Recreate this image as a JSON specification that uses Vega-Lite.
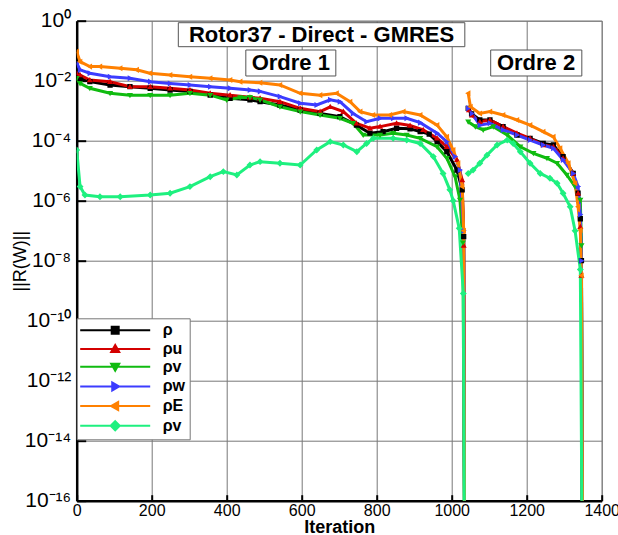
{
"$schema":"https://vega.github.io/schema/vega-lite/v6.json",
"width":525,"height":480,
"autosize":"none",
"padding":{"left":76.7,"top":20.7,"right":16.3,"bottom":34.3},
"config":{"font":"Liberation Sans","view":{"stroke":"#888","strokeWidth":1}},
"datasets":{
"res":[
{"s":"ρ","p":1,"i":0,"r":2.0e-2},{"s":"ρ","p":1,"i":9,"r":1.2e-2},{"s":"ρ","p":1,"i":35,"r":9.3e-3},{"s":"ρ","p":1,"i":89,"r":7.2e-3},{"s":"ρ","p":1,"i":142,"r":6.3e-3},{"s":"ρ","p":1,"i":196,"r":5.6e-3},{"s":"ρ","p":1,"i":249,"r":4.9e-3},{"s":"ρ","p":1,"i":302,"r":4.4e-3},{"s":"ρ","p":1,"i":356,"r":3.3e-3},{"s":"ρ","p":1,"i":409,"r":2.6e-3},{"s":"ρ","p":1,"i":462,"r":2.3e-3},{"s":"ρ","p":1,"i":489,"r":2.0e-3},{"s":"ρ","p":1,"i":542,"r":1.55e-3},{"s":"ρ","p":1,"i":596,"r":1.05e-3},{"s":"ρ","p":1,"i":649,"r":8.1e-4},{"s":"ρ","p":1,"i":702,"r":6.3e-4},{"s":"ρ","p":1,"i":746,"r":3.3e-4},{"s":"ρ","p":1,"i":782,"r":1.78e-4},{"s":"ρ","p":1,"i":817,"r":2.0e-4},{"s":"ρ","p":1,"i":853,"r":2.6e-4},{"s":"ρ","p":1,"i":889,"r":2.5e-4},{"s":"ρ","p":1,"i":916,"r":2.0e-4},{"s":"ρ","p":1,"i":940,"r":1.66e-4},{"s":"ρ","p":1,"i":961,"r":9.3e-5},{"s":"ρ","p":1,"i":987,"r":4.3e-5},{"s":"ρ","p":1,"i":1014,"r":1.05e-5},{"s":"ρ","p":1,"i":1028,"r":2.3e-6},{"s":"ρ","p":1,"i":1032,"r":6.3e-8},{"s":"ρ","p":1,"i":1035,"r":1e-20},
{"s":"ρ","p":2,"i":1044,"r":1.2e-3},{"s":"ρ","p":2,"i":1053,"r":7.9e-4},{"s":"ρ","p":2,"i":1075,"r":4.9e-4},{"s":"ρ","p":2,"i":1102,"r":4.9e-4},{"s":"ρ","p":2,"i":1137,"r":2.95e-4},{"s":"ρ","p":2,"i":1174,"r":1.55e-4},{"s":"ρ","p":2,"i":1209,"r":1.2e-4},{"s":"ρ","p":2,"i":1244,"r":8.1e-5},{"s":"ρ","p":2,"i":1271,"r":7.2e-5},{"s":"ρ","p":2,"i":1297,"r":2.95e-5},{"s":"ρ","p":2,"i":1324,"r":8.1e-6},{"s":"ρ","p":2,"i":1337,"r":1.78e-6},{"s":"ρ","p":2,"i":1343,"r":2.5e-7},{"s":"ρ","p":2,"i":1346,"r":1e-8},{"s":"ρ","p":2,"i":1349,"r":1e-20},
{"s":"ρu","p":1,"i":0,"r":1.78e-2},{"s":"ρu","p":1,"i":9,"r":1.55e-2},{"s":"ρu","p":1,"i":35,"r":1.05e-2},{"s":"ρu","p":1,"i":89,"r":9.3e-3},{"s":"ρu","p":1,"i":142,"r":6.3e-3},{"s":"ρu","p":1,"i":196,"r":6.3e-3},{"s":"ρu","p":1,"i":249,"r":5.6e-3},{"s":"ρu","p":1,"i":302,"r":4.9e-3},{"s":"ρu","p":1,"i":356,"r":3.8e-3},{"s":"ρu","p":1,"i":409,"r":3.3e-3},{"s":"ρu","p":1,"i":462,"r":2.8e-3},{"s":"ρu","p":1,"i":489,"r":2.6e-3},{"s":"ρu","p":1,"i":542,"r":2.0e-3},{"s":"ρu","p":1,"i":596,"r":1.2e-3},{"s":"ρu","p":1,"i":649,"r":9.3e-4},{"s":"ρu","p":1,"i":676,"r":1.35e-3},{"s":"ρu","p":1,"i":711,"r":9.3e-4},{"s":"ρu","p":1,"i":746,"r":3.8e-4},{"s":"ρu","p":1,"i":782,"r":2.6e-4},{"s":"ρu","p":1,"i":809,"r":2.95e-4},{"s":"ρu","p":1,"i":853,"r":3.8e-4},{"s":"ρu","p":1,"i":889,"r":3.2e-4},{"s":"ρu","p":1,"i":924,"r":2.3e-4},{"s":"ρu","p":1,"i":961,"r":1.2e-4},{"s":"ρu","p":1,"i":987,"r":6.3e-5},{"s":"ρu","p":1,"i":1014,"r":2.3e-5},{"s":"ρu","p":1,"i":1028,"r":4.9e-6},{"s":"ρu","p":1,"i":1032,"r":3.2e-8},{"s":"ρu","p":1,"i":1035,"r":1e-20},
{"s":"ρu","p":2,"i":1046,"r":1.05e-3},{"s":"ρu","p":2,"i":1054,"r":7.1e-4},{"s":"ρu","p":2,"i":1075,"r":4.3e-4},{"s":"ρu","p":2,"i":1102,"r":4.9e-4},{"s":"ρu","p":2,"i":1137,"r":2.95e-4},{"s":"ρu","p":2,"i":1174,"r":1.78e-4},{"s":"ρu","p":2,"i":1209,"r":1.2e-4},{"s":"ρu","p":2,"i":1244,"r":7.2e-5},{"s":"ρu","p":2,"i":1271,"r":6.3e-5},{"s":"ρu","p":2,"i":1297,"r":2.6e-5},{"s":"ρu","p":2,"i":1324,"r":8.1e-6},{"s":"ρu","p":2,"i":1337,"r":1.78e-6},{"s":"ρu","p":2,"i":1343,"r":1.35e-7},{"s":"ρu","p":2,"i":1346,"r":3.2e-9},{"s":"ρu","p":2,"i":1349,"r":1e-20},
{"s":"ρv","p":1,"i":0,"r":1.2e-2},{"s":"ρv","p":1,"i":9,"r":8.1e-3},{"s":"ρv","p":1,"i":35,"r":5.6e-3},{"s":"ρv","p":1,"i":89,"r":3.8e-3},{"s":"ρv","p":1,"i":142,"r":3.3e-3},{"s":"ρv","p":1,"i":196,"r":3.3e-3},{"s":"ρv","p":1,"i":249,"r":3.3e-3},{"s":"ρv","p":1,"i":302,"r":3.8e-3},{"s":"ρv","p":1,"i":356,"r":3.3e-3},{"s":"ρv","p":1,"i":400,"r":2.3e-3},{"s":"ρv","p":1,"i":436,"r":2.75e-3},{"s":"ρv","p":1,"i":462,"r":2.8e-3},{"s":"ρv","p":1,"i":489,"r":2.3e-3},{"s":"ρv","p":1,"i":542,"r":1.35e-3},{"s":"ρv","p":1,"i":596,"r":9.3e-4},{"s":"ρv","p":1,"i":649,"r":7.2e-4},{"s":"ρv","p":1,"i":702,"r":5.6e-4},{"s":"ρv","p":1,"i":737,"r":3.8e-4},{"s":"ρv","p":1,"i":764,"r":1.55e-4},{"s":"ρv","p":1,"i":809,"r":1.55e-4},{"s":"ρv","p":1,"i":844,"r":1.78e-4},{"s":"ρv","p":1,"i":880,"r":1.55e-4},{"s":"ρv","p":1,"i":916,"r":1.2e-4},{"s":"ρv","p":1,"i":961,"r":6.3e-5},{"s":"ρv","p":1,"i":987,"r":2.6e-5},{"s":"ρv","p":1,"i":1009,"r":6.3e-6},{"s":"ρv","p":1,"i":1022,"r":1.05e-6},{"s":"ρv","p":1,"i":1030,"r":4e-8},{"s":"ρv","p":1,"i":1035,"r":1e-20},
{"s":"ρv","p":2,"i":1044,"r":4.3e-4},{"s":"ρv","p":2,"i":1063,"r":2.95e-4},{"s":"ρv","p":2,"i":1084,"r":2.3e-4},{"s":"ρv","p":2,"i":1111,"r":2.95e-4},{"s":"ρv","p":2,"i":1148,"r":1.55e-4},{"s":"ρv","p":2,"i":1183,"r":6.3e-5},{"s":"ρv","p":2,"i":1218,"r":3.8e-5},{"s":"ρv","p":2,"i":1254,"r":2.6e-5},{"s":"ρv","p":2,"i":1281,"r":1.78e-5},{"s":"ρv","p":2,"i":1307,"r":7.2e-6},{"s":"ρv","p":2,"i":1329,"r":2.95e-6},{"s":"ρv","p":2,"i":1343,"r":1.05e-6},{"s":"ρv","p":2,"i":1346,"r":3.2e-8},{"s":"ρv","p":2,"i":1349,"r":1e-20},
{"s":"ρw","p":1,"i":0,"r":3.9e-2},{"s":"ρw","p":1,"i":9,"r":2.3e-2},{"s":"ρw","p":1,"i":35,"r":1.78e-2},{"s":"ρw","p":1,"i":89,"r":1.35e-2},{"s":"ρw","p":1,"i":142,"r":1.2e-2},{"s":"ρw","p":1,"i":196,"r":9.3e-3},{"s":"ρw","p":1,"i":249,"r":8.1e-3},{"s":"ρw","p":1,"i":302,"r":7.2e-3},{"s":"ρw","p":1,"i":356,"r":6.3e-3},{"s":"ρw","p":1,"i":409,"r":5.6e-3},{"s":"ρw","p":1,"i":462,"r":4.9e-3},{"s":"ρw","p":1,"i":489,"r":4.4e-3},{"s":"ρw","p":1,"i":542,"r":2.95e-3},{"s":"ρw","p":1,"i":596,"r":1.78e-3},{"s":"ρw","p":1,"i":640,"r":1.55e-3},{"s":"ρw","p":1,"i":676,"r":2.3e-3},{"s":"ρw","p":1,"i":702,"r":2.0e-3},{"s":"ρw","p":1,"i":737,"r":8.1e-4},{"s":"ρw","p":1,"i":773,"r":4.3e-4},{"s":"ρw","p":1,"i":809,"r":5.6e-4},{"s":"ρw","p":1,"i":844,"r":5.6e-4},{"s":"ρw","p":1,"i":880,"r":5.6e-4},{"s":"ρw","p":1,"i":916,"r":4.0e-4},{"s":"ρw","p":1,"i":961,"r":1.78e-4},{"s":"ρw","p":1,"i":987,"r":9.3e-5},{"s":"ρw","p":1,"i":1009,"r":2.95e-5},{"s":"ρw","p":1,"i":1022,"r":1.05e-5},{"s":"ρw","p":1,"i":1032,"r":1e-7},{"s":"ρw","p":1,"i":1035,"r":1e-20},
{"s":"ρw","p":2,"i":1044,"r":1.2e-3},{"s":"ρw","p":2,"i":1054,"r":8.1e-4},{"s":"ρw","p":2,"i":1075,"r":3.3e-4},{"s":"ρw","p":2,"i":1102,"r":3.8e-4},{"s":"ρw","p":2,"i":1137,"r":2.3e-4},{"s":"ρw","p":2,"i":1174,"r":1.55e-4},{"s":"ρw","p":2,"i":1209,"r":1.05e-4},{"s":"ρw","p":2,"i":1244,"r":7.2e-5},{"s":"ρw","p":2,"i":1271,"r":5.6e-5},{"s":"ρw","p":2,"i":1297,"r":2.3e-5},{"s":"ρw","p":2,"i":1324,"r":8.1e-6},{"s":"ρw","p":2,"i":1337,"r":2.95e-6},{"s":"ρw","p":2,"i":1343,"r":3.5e-7},{"s":"ρw","p":2,"i":1346,"r":1e-8},{"s":"ρw","p":2,"i":1349,"r":1e-20},
{"s":"ρE","p":1,"i":0,"r":9.3e-2},{"s":"ρE","p":1,"i":9,"r":4.3e-2},{"s":"ρE","p":1,"i":35,"r":2.95e-2},{"s":"ρE","p":1,"i":62,"r":2.95e-2},{"s":"ρE","p":1,"i":116,"r":2.6e-2},{"s":"ρE","p":1,"i":160,"r":2.3e-2},{"s":"ρE","p":1,"i":195,"r":1.78e-2},{"s":"ρE","p":1,"i":249,"r":1.55e-2},{"s":"ρE","p":1,"i":302,"r":1.35e-2},{"s":"ρE","p":1,"i":356,"r":1.2e-2},{"s":"ρE","p":1,"i":409,"r":1.05e-2},{"s":"ρE","p":1,"i":436,"r":9.3e-3},{"s":"ρE","p":1,"i":489,"r":8.5e-3},{"s":"ρE","p":1,"i":542,"r":7.2e-3},{"s":"ρE","p":1,"i":596,"r":3.8e-3},{"s":"ρE","p":1,"i":649,"r":3.3e-3},{"s":"ρE","p":1,"i":693,"r":3.8e-3},{"s":"ρE","p":1,"i":729,"r":2.0e-3},{"s":"ρE","p":1,"i":756,"r":9.3e-4},{"s":"ρE","p":1,"i":790,"r":7.2e-4},{"s":"ρE","p":1,"i":835,"r":7.2e-4},{"s":"ρE","p":1,"i":871,"r":9.3e-4},{"s":"ρE","p":1,"i":916,"r":7.2e-4},{"s":"ρE","p":1,"i":961,"r":3.3e-4},{"s":"ρE","p":1,"i":987,"r":1.35e-4},{"s":"ρE","p":1,"i":1004,"r":4.9e-5},{"s":"ρE","p":1,"i":1017,"r":1.78e-5},{"s":"ρE","p":1,"i":1028,"r":2.95e-6},{"s":"ρE","p":1,"i":1032,"r":1e-7},{"s":"ρE","p":1,"i":1035,"r":1e-20},
{"s":"ρE","p":2,"i":1044,"r":3.8e-3},{"s":"ρE","p":2,"i":1050,"r":1.35e-3},{"s":"ρE","p":2,"i":1075,"r":8.1e-4},{"s":"ρE","p":2,"i":1102,"r":9.3e-4},{"s":"ρE","p":2,"i":1137,"r":7.2e-4},{"s":"ρE","p":2,"i":1174,"r":4.9e-4},{"s":"ρE","p":2,"i":1209,"r":3.3e-4},{"s":"ρE","p":2,"i":1244,"r":2.0e-4},{"s":"ρE","p":2,"i":1271,"r":1.35e-4},{"s":"ρE","p":2,"i":1289,"r":5.6e-5},{"s":"ρE","p":2,"i":1311,"r":1.78e-5},{"s":"ρE","p":2,"i":1329,"r":3.8e-6},{"s":"ρE","p":2,"i":1337,"r":6.3e-7},{"s":"ρE","p":2,"i":1343,"r":1.05e-7},{"s":"ρE","p":2,"i":1346,"r":3.2e-9},{"s":"ρE","p":2,"i":1350,"r":1e-20},
{"s":"ρν","p":1,"i":0,"r":4.9e-5},{"s":"ρν","p":1,"i":9,"r":2.95e-6},{"s":"ρν","p":1,"i":22,"r":1.55e-6},{"s":"ρν","p":1,"i":62,"r":1.35e-6},{"s":"ρν","p":1,"i":116,"r":1.35e-6},{"s":"ρν","p":1,"i":196,"r":1.55e-6},{"s":"ρν","p":1,"i":249,"r":1.78e-6},{"s":"ρν","p":1,"i":302,"r":2.95e-6},{"s":"ρν","p":1,"i":356,"r":6.3e-6},{"s":"ρν","p":1,"i":391,"r":9.3e-6},{"s":"ρν","p":1,"i":427,"r":7.2e-6},{"s":"ρν","p":1,"i":462,"r":1.55e-5},{"s":"ρν","p":1,"i":489,"r":2.0e-5},{"s":"ρν","p":1,"i":542,"r":1.78e-5},{"s":"ρν","p":1,"i":596,"r":1.55e-5},{"s":"ρν","p":1,"i":640,"r":4.9e-5},{"s":"ρν","p":1,"i":676,"r":9.3e-5},{"s":"ρν","p":1,"i":711,"r":7.2e-5},{"s":"ρν","p":1,"i":747,"r":4.3e-5},{"s":"ρν","p":1,"i":773,"r":8.1e-5},{"s":"ρν","p":1,"i":791,"r":1.2e-4},{"s":"ρν","p":1,"i":844,"r":1.2e-4},{"s":"ρν","p":1,"i":880,"r":1.05e-4},{"s":"ρν","p":1,"i":916,"r":8.1e-5},{"s":"ρν","p":1,"i":951,"r":2.95e-5},{"s":"ρν","p":1,"i":977,"r":8.1e-6},{"s":"ρν","p":1,"i":995,"r":2.3e-6},{"s":"ρν","p":1,"i":1004,"r":1.0e-6},{"s":"ρν","p":1,"i":1020,"r":1.2e-7},{"s":"ρν","p":1,"i":1031,"r":8.1e-10},{"s":"ρν","p":1,"i":1035,"r":1e-20},
{"s":"ρν","p":2,"i":1044,"r":8.1e-6},{"s":"ρν","p":2,"i":1057,"r":1.05e-5},{"s":"ρν","p":2,"i":1075,"r":1.78e-5},{"s":"ρν","p":2,"i":1094,"r":3.3e-5},{"s":"ρν","p":2,"i":1121,"r":7.2e-5},{"s":"ρν","p":2,"i":1148,"r":1.05e-4},{"s":"ρν","p":2,"i":1164,"r":8.1e-5},{"s":"ρν","p":2,"i":1183,"r":4.3e-5},{"s":"ρν","p":2,"i":1209,"r":1.78e-5},{"s":"ρν","p":2,"i":1236,"r":8.1e-6},{"s":"ρν","p":2,"i":1262,"r":5.6e-6},{"s":"ρν","p":2,"i":1281,"r":3.8e-6},{"s":"ρν","p":2,"i":1297,"r":1.78e-6},{"s":"ρν","p":2,"i":1316,"r":6.3e-7},{"s":"ρν","p":2,"i":1329,"r":1e-7},{"s":"ρν","p":2,"i":1343,"r":5.1e-9},{"s":"ρν","p":2,"i":1349,"r":1e-20}
],
"notes":[
{"label":"Rotor37 - Direct - GMRES","x1":271,"x2":1035,"y1":0.857,"y2":0.136,"xc":653,"yc":0.341},
{"label":"Ordre 1","x1":451,"x2":691,"y1":0.1054,"y2":0.01435,"xc":571,"yc":0.0389},
{"label":"Ordre 2","x1":1104,"x2":1347,"y1":0.1054,"y2":0.01435,"xc":1225,"yc":0.0389}
]},
"layer":[
{"data":{"name":"res"},
 "mark":{"type":"line","strokeWidth":3,"clip":true},
 "encoding":{
  "x":{"field":"i","type":"quantitative","title":"Iteration","scale":{"domain":[0,1400],"nice":false},
   "axis":{"values":[0,50,100,150,200,250,300,350,400,450,500,550,600,650,700,750,800,850,900,950,1000,1050,1100,1150,1200,1250,1300,1350,1400],
    "labelExpr":"datum.value % 200 === 0 ? datum.label : ''","format":"d","labelFontSize":16,"labelColor":"black","labelPadding":8,"labelFlush":false,
    "tickSize":-6,"tickColor":"black","tickWidth":2,"domainColor":"black","domainWidth":2.5,
    "grid":true,"gridColor":{"condition":{"test":"datum.value % 200 === 0","value":"#777"},"value":"#aaa"},
    "gridDash":{"condition":{"test":"datum.value % 200 === 0","value":[]},"value":[1,2]},"gridWidth":1,
    "titleFontSize":18,"titleFontWeight":"bold","titleColor":"black","titlePadding":0}},
  "y":{"field":"r","type":"quantitative","title":"||R(W)||","scale":{"type":"log","domain":[1e-16,1],"nice":false},
   "axis":{"values":[1,0.01,1e-4,1e-6,1e-8,1e-10,1e-12,1e-14,1e-16],
    "labelExpr":"datum.value > 0.1 ? '10⁰' : datum.value > 1e-3 ? '10⁻²' : datum.value > 1e-5 ? '10⁻⁴' : datum.value > 1e-7 ? '10⁻⁶' : datum.value > 1e-9 ? '10⁻⁸' : datum.value > 1e-11 ? '10⁻¹⁰' : datum.value > 1e-13 ? '10⁻¹²' : datum.value > 1e-15 ? '10⁻¹⁴' : '10⁻¹⁶'",
    "labelFontSize":21,"labelColor":"black","labelPadding":15,
    "tickSize":-9,"tickColor":"black","tickWidth":2,"domainColor":"black","domainWidth":2.5,
    "grid":true,"gridColor":"#777","gridWidth":1,
    "titleFontSize":18,"titleFontWeight":"normal","titleColor":"black","titleX":-56,"titleY":240,"titleAlign":"center","titleBaseline":"middle","titleAngle":-90}},
  "color":{"field":"s","type":"nominal","scale":{"domain":["ρ","ρu","ρv","ρw","ρE","ρν"],"range":["#000000","#d40000","#10bb10","#3c3cff","#ff8000","#1ef07f"]},
   "legend":{"title":null,"orient":"none","legendX":0,"legendY":297.6,"fillColor":"white","strokeColor":"#777","padding":4,"symbolSize":49,"symbolOffset":26.5,"labelOffset":39.5,"rowPadding":1.7,"labelFontSize":16,"labelFontWeight":"bold","labelColor":"black","labelExpr":"datum.label == 'ρν' ? 'ρv' : datum.label",
    "encode":{"symbols":{"update":{"fill":{"scale":"color","field":"value"},"stroke":{"scale":"color","field":"value"},"strokeWidth":{"value":2},"opacity":{"value":1}}}}}},
  "detail":{"field":"p","type":"nominal"}
 }},
{"data":{"name":"res"},
 "mark":{"type":"point","filled":true,"size":28,"opacity":1,"clip":true},
 "encoding":{
  "x":{"field":"i","type":"quantitative","title":"Iteration"},
  "y":{"field":"r","type":"quantitative","title":"||R(W)||","scale":{"type":"log","domain":[1e-16,1],"nice":false}},
  "color":{"field":"s","type":"nominal","scale":{"domain":["ρ","ρu","ρv","ρw","ρE","ρν"],"range":["#000000","#d40000","#10bb10","#3c3cff","#ff8000","#1ef07f"]},
   "legend":{"title":null,"orient":"none","legendX":0,"legendY":297.6,"fillColor":"white","strokeColor":"#777","padding":4,"symbolSize":49,"symbolOffset":26.5,"labelOffset":39.5,"rowPadding":1.7,"labelFontSize":16,"labelFontWeight":"bold","labelColor":"black","labelExpr":"datum.label == 'ρν' ? 'ρv' : datum.label",
    "encode":{"symbols":{"update":{"fill":{"scale":"color","field":"value"},"stroke":{"scale":"color","field":"value"},"strokeWidth":{"value":2},"opacity":{"value":1}}}}}},
  "shape":{"field":"s","type":"nominal","scale":{"domain":["ρ","ρu","ρv","ρw","ρE","ρν"],"range":["M-10,0H10M-1,-1H1V1H-1Z","M-10,0H10M0,-1.15L1.15,0.85H-1.15Z","M-10,0H10M0,1.15L1.15,-0.85H-1.15Z","M-10,0H10M1.15,0L-0.85,1.15V-1.15Z","M-10,0H10M-1.15,0L0.85,1.15V-1.15Z","M-10,0H10M0,-1.3L1.3,0L0,1.3L-1.3,0Z"]},
   "legend":{"title":null,"orient":"none","legendX":0,"legendY":297.6,"fillColor":"white","strokeColor":"#777","padding":4,"symbolSize":49,"symbolOffset":26.5,"labelOffset":39.5,"rowPadding":1.7,"labelFontSize":16,"labelFontWeight":"bold","labelColor":"black","labelExpr":"datum.label == 'ρν' ? 'ρv' : datum.label",
    "encode":{"symbols":{"update":{"fill":{"scale":"color","field":"value"},"stroke":{"scale":"color","field":"value"},"strokeWidth":{"value":2},"opacity":{"value":1}}}}}}
 }},
{"data":{"name":"notes"},
 "mark":{"type":"rect","fill":"white","stroke":"#555","strokeWidth":1},
 "encoding":{
  "x":{"field":"x1","type":"quantitative","title":"Iteration"},"x2":{"field":"x2"},
  "y":{"field":"y1","type":"quantitative","title":"||R(W)||","scale":{"type":"log","domain":[1e-16,1],"nice":false}},"y2":{"field":"y2"}
 }},
{"data":{"name":"notes"},
 "mark":{"type":"text","fontSize":22,"fontWeight":"bold","font":"Liberation Sans","align":"center","baseline":"middle","color":"black"},
 "encoding":{
  "x":{"field":"xc","type":"quantitative","title":"Iteration"},
  "y":{"field":"yc","type":"quantitative","title":"||R(W)||","scale":{"type":"log","domain":[1e-16,1],"nice":false}},
  "text":{"field":"label","type":"nominal"}
 }}
]
}
